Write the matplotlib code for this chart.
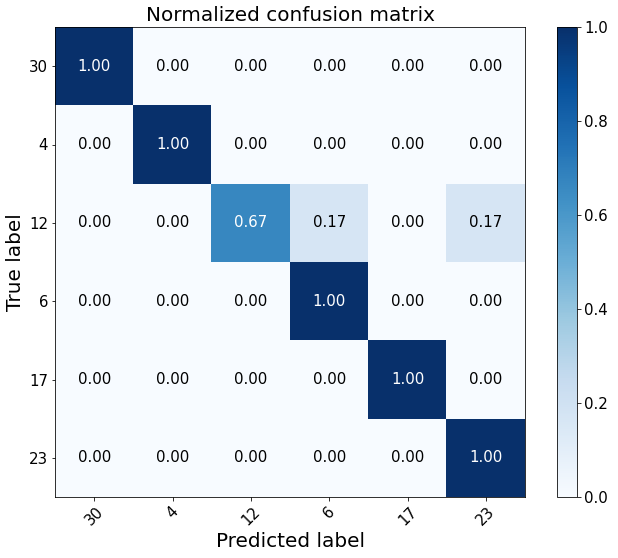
import numpy as np
import matplotlib
matplotlib.use("Agg")
import matplotlib.pyplot as plt

labels = ['30', '4', '12', '6', '17', '23']
row_30 = [1.00, 0.00, 0.00, 0.00, 0.00, 0.00]
row_4 = [0.00, 1.00, 0.00, 0.00, 0.00, 0.00]
row_12 = [0.00, 0.00, 4/6, 1/6, 0.00, 1/6]
row_6 = [0.00, 0.00, 0.00, 1.00, 0.00, 0.00]
row_17 = [0.00, 0.00, 0.00, 0.00, 1.00, 0.00]
row_23 = [0.00, 0.00, 0.00, 0.00, 0.00, 1.00]

cm = np.array([row_30, row_4, row_12, row_6, row_17, row_23])

fig = plt.figure(figsize=(618/72, 558/72), dpi=72)
ax = fig.add_axes([55/618, 61/558, 470/618, 470/558])
cax = fig.add_axes([557/618, 61/558, 20/618, 470/558])

im = ax.imshow(cm, interpolation='nearest', cmap=plt.cm.Blues, vmin=0, vmax=1, aspect='auto')
cb = fig.colorbar(im, cax=cax)
cb.ax.tick_params(labelsize=15)
cb.outline.set_linewidth(0.8)

ax.set_title('Normalized confusion matrix', fontsize=20)
ticks = np.arange(len(labels))
ax.set_xticks(ticks)
ax.set_xticklabels(labels, rotation=45, fontsize=15)
ax.set_yticks(ticks)
ax.set_yticklabels(labels, fontsize=15)
ax.set_ylabel('True label', fontsize=20)
ax.set_xlabel('Predicted label', fontsize=20)

thresh = cm.max() / 2.
for i in range(cm.shape[0]):
    for j in range(cm.shape[1]):
        ax.text(j, i, format(cm[i, j], '.2f'), ha='center', va='center', fontsize=15,
                color='white' if cm[i, j] > thresh else 'black')

fig.savefig('out.png', dpi=72, facecolor='white')
